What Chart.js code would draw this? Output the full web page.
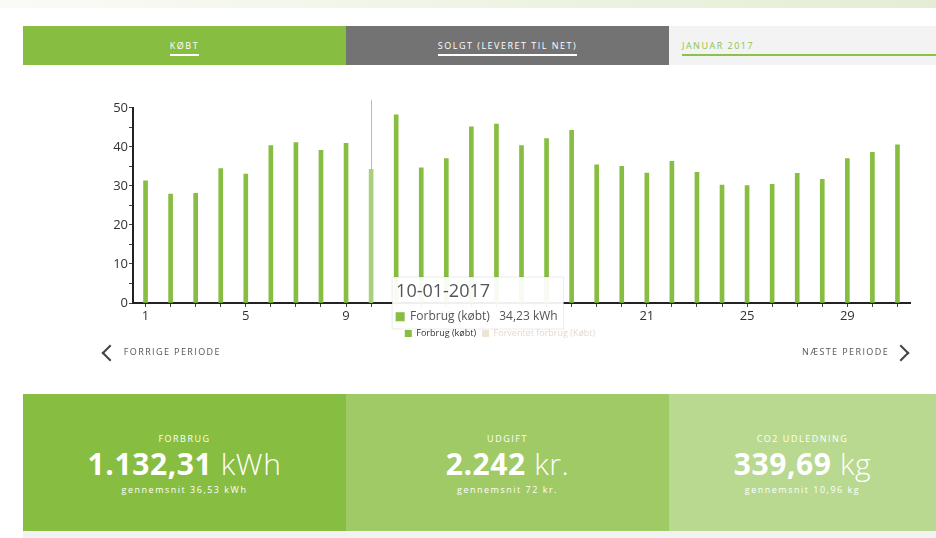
<!DOCTYPE html>
<html>
<head>
<meta charset="utf-8">
<script src="https://cdn.jsdelivr.net/npm/chart.js@4"></script>
<style>
    body { margin: 0; width: 936px; height: 538px; overflow: hidden; background: #fff; font-family: "Open Sans", "Noto Sans", sans-serif; position: relative; }
    .topstrip { position: absolute; left: 0; top: 0; width: 936px; height: 8px; background: linear-gradient(to right, #fafbf7, #e4edd4); }
    .tab { position: absolute; top: 26px; height: 39px; font-size: 9px; letter-spacing: 1.5px; color: #fff; text-align: center; line-height: 39px; }
    .tab span { display: inline-block; line-height: 12px; padding-bottom: 2px; border-bottom: 2px solid #fff; }
    #tab1 { left: 23px; width: 323px; background: #87bd40; }
    #tab2 { left: 346px; width: 323px; background: #737373; }
    #tab3 { left: 669px; width: 267px; background: #f3f3f3; color: #8bc34a; text-align: left; }
    #tab3 span { margin-left: 13px; width: 254px; border-bottom-color: #8bc34a; }
    #chartBox { position: absolute; left: 90px; top: 99px; width: 830px; height: 249px; }
    .nav { position: absolute; top: 344px; font-size: 9px; letter-spacing: 1.4px; color: #555; line-height: 16px; }
    .nav i { display: inline-block; width: 10px; height: 10px; border-left: 2px solid #444; border-bottom: 2px solid #444; vertical-align: middle; }
    #prev { left: 104px; }
    #prev i { transform: rotate(45deg); margin-right: 4px; }
    #next { left: 802px; }
    #next i { transform: rotate(-135deg); margin-left: 2px; }
    .stat { position: absolute; top: 394px; height: 137px; color: #fff; text-align: center; }
    .stat .lbl { margin-top: 38px; font-size: 9px; letter-spacing: 1.5px; }
    .stat .big { margin-top: 1px; font-size: 30px; line-height: 36px; letter-spacing: 0.6px; }
    .stat .big b { font-weight: 700; }
    .stat .big span { font-weight: 300; }
    .stat .sub { margin-top: 1px; font-size: 9px; letter-spacing: 1.5px; }
    #s1 { left: 23px; width: 323px; background: #87bd40; }
    #s2 { left: 346px; width: 323px; background: #a0ca66; }
    #s3 { left: 669px; width: 267px; background: #b8d98f; }
    .bottomstrip { position: absolute; left: 23px; top: 531px; width: 913px; height: 7px; background: #f2f2f2; }
</style>
</head>
<body>
<div class="topstrip"></div>
<div class="tab" id="tab1"><span>KØBT</span></div>
<div class="tab" id="tab2"><span>SOLGT (LEVERET TIL NET)</span></div>
<div class="tab" id="tab3"><span>JANUAR 2017</span></div>

<div id="chartBox"><canvas id="usage-chart"></canvas></div>

<div class="nav" id="prev"><i></i> FORRIGE PERIODE</div>
<div class="nav" id="next">NÆSTE PERIODE <i></i></div>

<div class="stat" id="s1">
    <div class="lbl">FORBRUG</div>
    <div class="big"><b>1.132,31</b> <span>kWh</span></div>
    <div class="sub">gennemsnit 36,53 kWh</div>
</div>
<div class="stat" id="s2">
    <div class="lbl">UDGIFT</div>
    <div class="big"><b>2.242</b> <span>kr.</span></div>
    <div class="sub">gennemsnit 72 kr.</div>
</div>
<div class="stat" id="s3">
    <div class="lbl">CO2 UDLEDNING</div>
    <div class="big"><b>339,69</b> <span>kg</span></div>
    <div class="sub">gennemsnit 10,96 kg</div>
</div>
<div class="bottomstrip"></div>

<script>
// Dage i januar 2017
const days = ["1", "2", "3", "4", "5", "6", "7", "8", "9", "10", "11", "12", "13", "14", "15", "16",
    "17", "18", "19", "20", "21", "22", "23", "24", "25", "26", "27", "28", "29", "30", "31"];

// Forbrug (købt) i kWh pr. dag
const forbrug = [31.3, 27.9, 28.1, 34.4, 33.0, 40.3, 41.1, 39.1, 40.9, 34.23,
    48.2, 34.6, 37.0, 45.1, 45.8, 40.3, 42.1, 44.2, 35.4, 35.0,
    33.3, 36.3, 33.5, 30.2, 30.1, 30.4, 33.2, 31.7, 37.0, 38.6, 40.5];

// Forventet forbrug - ingen data i perioden
const forventet = [];

const xTickLabels = ["1", "5", "9", "13", "17", "21", "25", "29"];
const yTickLabels = [0, 10, 20, 30, 40, 50];

const activeDay = 9; // 10-01-2017 vist i tooltip

const green = "#87bd40";
const tan = "#efe3d6";
const fontFam = "'Open Sans', 'Noto Sans', sans-serif";

document.addEventListener("DOMContentLoaded", () => {
    const ctx = document.getElementById("usage-chart").getContext("2d");

    // Tooltip placeret nederst, til højre for søjlen
    Chart.Tooltip.positioners.belowRight = function (items) {
        if (!items.length) return false;
        const el = items[0].element;
        return { x: el.x + 21, y: this.chart.chartArea.bottom - 26 };
    };

    // Lodret linje ved den aktive søjle
    const hoverLine = {
        id: "hoverLine",
        beforeDatasetsDraw(chart) {
            const active = chart.getActiveElements();
            if (!active.length) return;
            const x = active[0].element.x;
            const c = chart.ctx;
            c.save();
            c.strokeStyle = "#bbbbbb";
            c.lineWidth = 1;
            c.beginPath();
            c.moveTo(Math.round(x) + 0.5, chart.chartArea.top - 8);
            c.lineTo(Math.round(x) + 0.5, chart.chartArea.bottom);
            c.stroke();
            c.restore();
        }
    };

    const chart = new Chart(ctx, {
        type: "bar",
        data: {
            labels: days,
            datasets: [{
                label: "Forbrug (købt)",
                data: forbrug,
                backgroundColor: green,
                hoverBackgroundColor: "#a9d17c",
                barThickness: 4,
                grouped: false
            }, {
                label: "Forventet forbrug (Købt)",
                data: forventet,
                backgroundColor: tan,
                barThickness: 4,
                grouped: false
            }]
        },
        options: {
            responsive: true,
            maintainAspectRatio: false,
            animation: false,
            events: [],
            layout: { padding: { top: 6, right: 10, left: 0, bottom: 0 } },
            scales: {
                x: {
                    offset: true,
                    border: { color: "#222", width: 2 },
                    grid: { offset: false, drawOnChartArea: false, drawTicks: true, tickLength: 4, color: "#444" },
                    ticks: {
                        autoSkip: false,
                        maxRotation: 0,
                        padding: 1,
                        color: "#333",
                        font: { family: fontFam, size: 13 },
                        callback: function (val) {
                            const l = this.getLabelForValue(val);
                            return xTickLabels.includes(l) ? l : "";
                        }
                    },
                    afterFit(scale) { scale.height = 20; }
                },
                y: {
                    min: 0,
                    max: 50,
                    border: { color: "#222", width: 2 },
                    grid: { drawOnChartArea: false, drawTicks: true, tickLength: 4, color: "#444" },
                    ticks: {
                        stepSize: 5,
                        padding: 1,
                        color: "#333",
                        font: { family: fontFam, size: 13 },
                        callback: (val) => yTickLabels.includes(val) ? String(val) : ""
                    },
                    afterFit(scale) { scale.width = 43; }
                }
            },
            plugins: {
                legend: {
                    position: "bottom",
                    labels: {
                        boxWidth: 7,
                        boxHeight: 7,
                        padding: 6,
                        font: { family: fontFam, size: 9 },
                        generateLabels(chart) {
                            const items = Chart.defaults.plugins.legend.labels.generateLabels(chart);
                            items.forEach((it, i) => {
                                it.fontColor = i === 0 ? "#333" : "#e6d9cc";
                                it.lineWidth = 0;
                            });
                            return items;
                        }
                    }
                },
                tooltip: {
                    position: "belowRight",
                    xAlign: "left",
                    yAlign: "top",
                    caretSize: 0,
                    caretPadding: 0,
                    cornerRadius: 0,
                    backgroundColor: "rgba(255,255,255,0.93)",
                    borderColor: "rgba(0,0,0,0.08)",
                    borderWidth: 1,
                    titleColor: "#555",
                    bodyColor: "#555",
                    titleFont: { family: fontFam, size: 18, weight: "normal" },
                    bodyFont: { family: fontFam, size: 12 },
                    titleMarginBottom: 7,
                    padding: { top: 4, bottom: 5, left: 4, right: 6 },
                    boxWidth: 8,
                    boxHeight: 8,
                    boxPadding: 4,
                    multiKeyBackground: green,
                    displayColors: true,
                    filter: (item) => item.datasetIndex === 0,
                    callbacks: {
                        title: (items) => items[0].label.padStart(2, "0") + "-01-2017",
                        label: (item) => item.dataset.label + "   " + item.parsed.y.toFixed(2).replace(".", ",") + " kWh",
                        labelColor: () => ({ borderColor: green, backgroundColor: green, borderWidth: 1 })
                    }
                }
            }
        },
        plugins: [hoverLine]
    });

    // Vis den valgte dag som aktiv
    const active = [{ datasetIndex: 0, index: activeDay }];
    chart.setActiveElements(active);
    chart.tooltip.setActiveElements(active, { x: 0, y: 0 });
    chart.update();
});
</script>
</body>
</html>
